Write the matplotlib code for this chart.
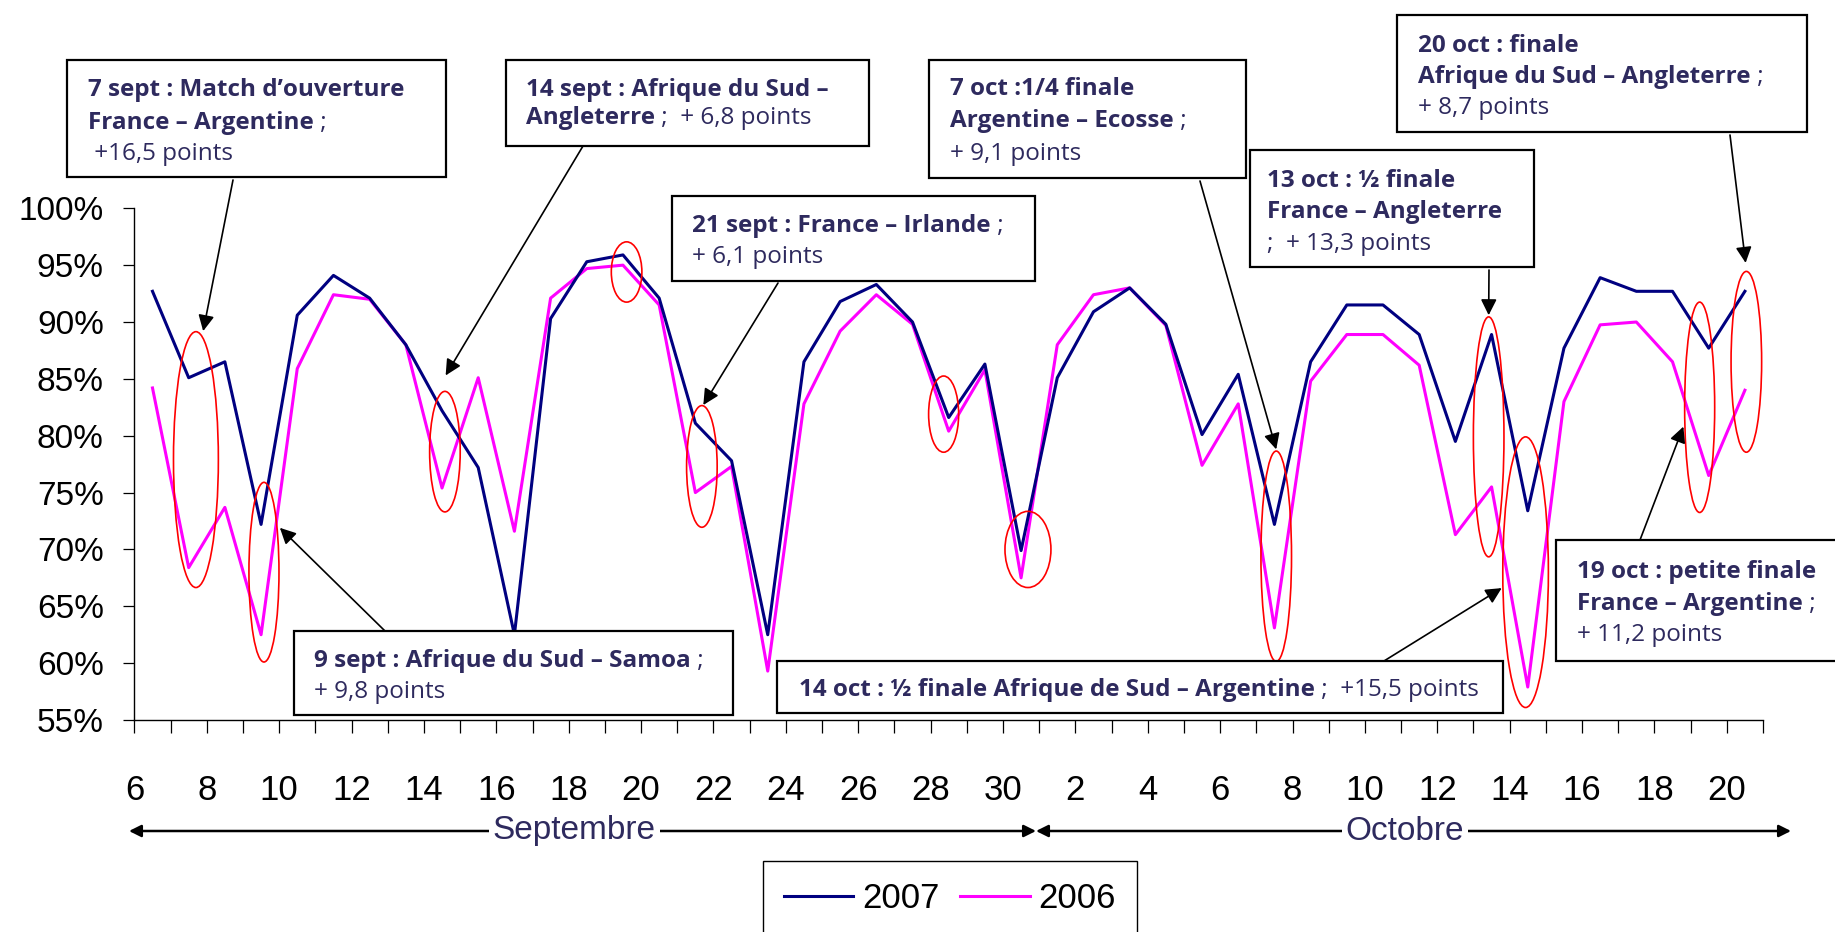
import matplotlib.pyplot as plt
from matplotlib.patches import Ellipse, Rectangle

# Taille de la figure en pixels (dpi 100)
W, H = 1835, 932

# Jours : 6 -> 30 septembre puis 1 -> 20 octobre
jours_sept = list(range(6, 31))
jours_oct = list(range(1, 21))
jours = jours_sept + jours_oct

# Audience (%) par jour
audience_2007 = [92.7, 85.1, 86.5, 72.2, 90.6, 94.1, 92.1, 88.0, 82.2, 77.2,
                 62.5, 90.3, 95.3, 95.9, 92.1, 81.1, 77.8, 62.5, 86.5, 91.8,
                 93.3, 90.0, 81.6, 86.3, 69.9, 85.1, 90.9, 93.0, 89.8, 80.1,
                 85.4, 72.2, 86.5, 91.5, 91.5, 88.9, 79.5, 88.9, 73.4, 87.7,
                 93.9, 92.7, 92.7, 87.7, 92.7]
audience_2006 = [84.2, 68.4, 73.7, 62.5, 85.9, 92.4, 92.0, 88.0, 75.4, 85.1,
                 71.6, 92.1, 94.7, 95.0, 91.5, 75.0, 77.3, 59.3, 82.8, 89.2,
                 92.4, 89.8, 80.4, 85.8, 67.5, 88.0, 92.4, 93.0, 89.7, 77.4,
                 82.8, 63.1, 84.8, 88.9, 88.9, 86.2, 71.3, 75.5, 57.9, 83.0,
                 89.75, 90.0, 86.5, 76.5, 84.0]

# Graduations de l'axe y
y_ticks = [55, 60, 65, 70, 75, 80, 85, 90, 95, 100]

# Textes des encadrés : (gras, normal) par ligne
textes = [
    [("7 sept : Match d’ouverture", ""), ("France – Argentine", " ;"), ("", " +16,5 points")],
    [("14 sept : Afrique du Sud –", ""), ("Angleterre", " ;  + 6,8 points")],
    [("21 sept : France – Irlande", " ;"), ("", "+ 6,1 points")],
    [("7 oct :1/4 finale", ""), ("Argentine – Ecosse", " ;"), ("", "+ 9,1 points")],
    [("13 oct : ½ finale", ""), ("France – Angleterre", ""), ("", ";  + 13,3 points")],
    [("20 oct : finale", ""), ("Afrique du Sud – Angleterre", " ;"), ("", "+ 8,7 points")],
    [("9 sept : Afrique du Sud – Samoa", " ;"), ("", "+ 9,8 points")],
    [("14 oct : ½ finale Afrique de Sud – Argentine", " ;  +15,5 points")],
    [("19 oct : petite finale", ""), ("France – Argentine", " ;"), ("", "+ 11,2 points")],
]

# Encadrés : rectangle (x0, y0, x1, y1) en pixels depuis le haut, x du texte, lignes de base
cadres = [
    ((67, 60, 446, 177), 88, [96, 129, 160]),
    ((506, 60, 869, 146), 526, [96, 124]),
    ((672, 196, 1035, 281), 692, [232, 263]),
    ((929, 60, 1246, 178), 950, [95, 127, 160]),
    ((1250, 150, 1534, 267), 1267, [187, 218, 250]),
    ((1397, 15, 1807, 132), 1418, [52, 83, 114]),
    ((294, 631, 733, 715), 314, [667, 698]),
    ((777, 661, 1503, 713), 799, [696]),
    ((1556, 540, 1840, 661), 1577, [578, 610, 641]),
]

# Flèches : départ (pixels) -> pointe (données)
fleches = [
    ((233, 180), (1.9, 89.2)),
    ((583, 146), (8.6, 85.3)),
    ((778, 283), (15.72, 82.7)),
    ((1200, 181), (31.55, 78.8)),
    ((1489, 270), (37.42, 90.6)),
    ((1730, 135), (44.52, 95.2)),
    ((385, 631), (4.02, 71.9)),
    ((1384, 661), (37.78, 66.6)),
    ((1640, 540), (42.8, 80.8)),
]

# Ellipses rouges (centre x, centre y, largeur, hauteur) en coordonnées données
ellipses = [
    (1.70, 77.9, 1.24, 22.5), (3.58, 68.0, 0.83, 15.8), (8.58, 78.6, 0.845, 10.6),
    (13.60, 94.4, 0.845, 5.3), (15.68, 77.3, 0.845, 10.7), (22.36, 81.9, 0.83, 6.7),
    (24.69, 70.0, 1.27, 6.7), (31.55, 69.4, 0.845, 18.5), (37.42, 79.9, 0.845, 21.1),
    (38.44, 68.0, 1.26, 23.8), (43.25, 82.5, 0.83, 18.5), (44.54, 86.5, 0.845, 15.9),
]

txt_color = '#2e2a5e'


def fp(x, y):
    # pixels (origine en haut à gauche) -> fraction de figure
    return x / W, 1 - y / H


fig = plt.figure(figsize=(W / 100, H / 100), dpi=100)
ax = fig.add_axes([134.4 / W, 1 - 720 / H, (1763 - 134.4) / W, (720 - 208.3) / H])

x = [i + 0.5 for i in range(len(jours))]
l1, = ax.plot(x, audience_2007, color='#000080', lw=2.2, label='2007', zorder=3)
l2, = ax.plot(x, audience_2006, color='#ff00ff', lw=2.2, label='2006', zorder=2)

ax.set_xlim(0, len(jours))
ax.set_ylim(55, 100)

# Axe x : une graduation par jour, étiquette un jour sur deux
ax.set_xticks(range(len(jours) + 1))
labels = [str(j) if k % 2 == 0 else '' for k, j in enumerate(jours)] + ['']
ax.set_xticklabels(labels, fontsize=25, family='Liberation Sans')
ax.tick_params(axis='x', direction='out', length=9, width=0.9, pad=30)

ax.set_yticks(y_ticks)
ax.set_yticklabels([f"{v}%" for v in y_ticks], fontsize=24, family='Liberation Sans')
ax.tick_params(axis='y', direction='out', length=8, width=0.9, pad=14)

for s in ['top', 'right']:
    ax.spines[s].set_visible(False)
for s in ['left', 'bottom']:
    ax.spines[s].set_linewidth(1.0)

# Ellipses rouges
for cx, cy, w, h in ellipses:
    ax.add_patch(Ellipse((cx, cy), w, h, fill=False, ec='#ff0000', lw=1.2,
                         clip_on=False, zorder=4))

# Flèches
for (sx, sy), (tx, ty) in fleches:
    ax.annotate('', xy=(tx, ty), xycoords='data', xytext=fp(sx, sy),
                textcoords='figure fraction', annotation_clip=False,
                arrowprops=dict(arrowstyle='-|>', color='black', lw=1.2,
                                mutation_scale=24, shrinkA=0, shrinkB=0), zorder=4)

# Encadrés de texte
for lignes, ((x0, y0, x1, y1), tx, bases) in zip(textes, cadres):
    ax.add_patch(Rectangle(fp(x0, y1), (x1 - x0) / W, (y1 - y0) / H,
                           transform=fig.transFigure, fc='white', ec='black',
                           lw=1.6, clip_on=False, zorder=5))
    for (gras, normal), yb in zip(lignes, bases):
        prev = None
        if gras:
            prev = ax.text(*fp(tx, yb), gras, transform=fig.transFigure,
                           fontsize=17.5, fontweight='bold', family='Open Sans',
                           color=txt_color, va='baseline', zorder=6)
        if normal:
            if prev is None:
                ax.text(*fp(tx, yb), normal, transform=fig.transFigure,
                        fontsize=17.5, family='Open Sans', color=txt_color,
                        va='baseline', zorder=6)
            else:
                ax.annotate(normal, xy=(1, 0), xycoords=prev, va='bottom',
                            fontsize=17.5, family='Open Sans', color=txt_color,
                            zorder=6, annotation_clip=False)

# Flèches des mois
for xa, xb in [(129, 1036), (1036, 1791)]:
    ax.annotate('', xy=fp(xa, 831), xytext=fp(xb, 831), xycoords='figure fraction',
                annotation_clip=False,
                arrowprops=dict(arrowstyle='<|-|>', color='black', lw=1.8,
                                mutation_scale=18, shrinkA=0, shrinkB=0))
fig.text(*fp(574, 831), 'Septembre', ha='center', va='center', fontsize=24,
         family='Liberation Sans', color=txt_color,
         bbox=dict(fc='white', ec='none', pad=3))
fig.text(*fp(1405, 831), 'Octobre', ha='center', va='center', fontsize=24,
         family='Liberation Sans', color=txt_color,
         bbox=dict(fc='white', ec='none', pad=3))

# Légende
leg = fig.legend(handles=[l1, l2], loc='upper left', bbox_to_anchor=fp(763, 861),
                 ncol=2, prop={'family': 'Liberation Sans', 'size': 25},
                 frameon=True, fancybox=False, edgecolor='black', framealpha=1,
                 handlelength=2.0, handletextpad=0.25, columnspacing=0.6,
                 borderpad=0.6, borderaxespad=0)
leg.get_frame().set_linewidth(1.0)

fig.savefig('out.png', dpi=100)
